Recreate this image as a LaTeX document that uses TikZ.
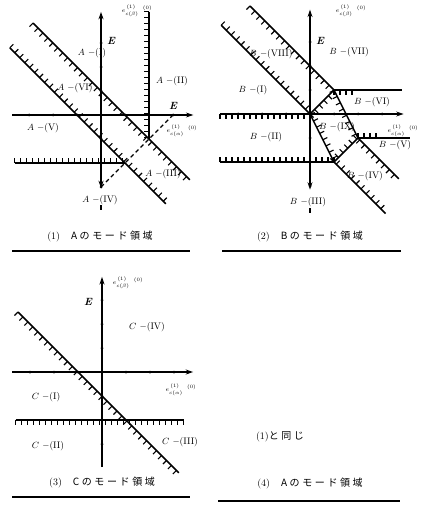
\documentclass[tikz,border=0pt]{standalone}
\usepackage{fontspec}
\newfontfamily\jp{Noto Sans CJK JP}
\usetikzlibrary{arrows.meta,decorations.markings}
\newcommand\jk{\kern2.6pt}
\begin{document}
\begin{tikzpicture}[x=1pt,y=-1pt,
  >={Stealth[length=7.5pt,width=5pt]},
  bound/.style={line width=1.5pt},
  axisline/.style={line width=1.7pt},
  hatchL/.style={postaction={decorate,decoration={markings,mark=between positions 0 and 1 step #1 with {\draw[line width=1.1pt] (0pt,0pt)--(0pt,5pt);}}}},
  hatchL/.default=6.5pt,
  hatchR/.style={postaction={decorate,decoration={markings,mark=between positions 0 and 1 step #1 with {\draw[line width=1.1pt] (0pt,0pt)--(0pt,-5pt);}}}},
  hatchR/.default=6.5pt,
  lab/.style={font=\fontsize{9.5}{11}\selectfont, inner sep=0pt},
  elab/.style={font=\fontsize{6.5}{7}\selectfont, inner sep=0pt},
  elet/.style={font=\fontsize{10.5}{12}\selectfont\bfseries\itshape, inner sep=0pt},
  captext/.style={font=\fontsize{10}{12}\selectfont, inner sep=0pt},
  capline/.style={line width=1.3pt}
]
\useasboundingbox (0,0) rectangle (427,508);

%================ Panel (1) A =================
\begin{scope}[shift={(101,115)},x=24pt,y=24pt]
  \coordinate (A-o) at (0,0);
  \coordinate (A-xl) at (-3.7,0);
  \coordinate (A-xr) at (3.85,0);
  \coordinate (A-yb) at (0,-3.05);
  \coordinate (A-yt) at (0,4.3);
  \coordinate (A-t1) at (0,-3.75);
  \coordinate (A-t2) at (0,-3.97);
  \coordinate (A-u1) at (-2.83,3.83);
  \coordinate (A-u2) at (3.7,-2.7);
  \coordinate (A-l1) at (-3.8,2.8);
  \coordinate (A-l2) at (2.7,-3.7);
  \coordinate (A-v1) at (2,4.3);
  \coordinate (A-v2) at (2,-1);
  \coordinate (A-h1) at (-3.6,-2);
  \coordinate (A-h2) at (1,-2);
  \coordinate (A-d1) at (0,-3);
  \coordinate (A-d2) at (3,0);
  \draw[axisline,->] (A-xl) -- (A-xr);
  \draw[axisline,<->] (A-yb) -- (A-yt);
  \draw[axisline] (A-t1) -- (A-t2);
  \draw[bound,hatchR=7pt] (A-u1) -- (A-u2);
  \draw[bound,hatchL=7pt] (A-l1) -- (A-l2);
  \draw[bound,hatchR=6pt] (A-v1) -- (A-v2);
  \draw[bound,hatchL=6pt] (A-h1) -- (A-h2);
  \draw[line width=1.2pt,dash pattern=on 4pt off 3pt] (A-d1) -- (A-d2);
  \foreach \t in {-3,-2,-1,1,2,3}{
    \fill (\t,0) circle (1.5pt);
    \fill (0,\t) circle (1.5pt);
  }
\end{scope}
\node[lab] (A1) at (92,53) {$A$ $-$(I)};
\node[lab] (A2) at (172,81) {$A$ $-$(II)};
\node[lab] (A6) at (75,88) {$A$ $-$(VI)};
\node[lab] (A5) at (43,128) {$A$ $-$(V)};
\node[lab] (A3) at (163,174) {$A$ $-$(III)};
\node[lab] (A4) at (100,200) {$A$ $-$(IV)};
\node[elet] (AE1) at (111,41) {E};
\node[elet] (AE2) at (173,106) {E};
\node[elab] (Aeb) at (137,11) {$e^{\,(1)}_{c(\beta)}\;\;{}^{(0)}$};
\node[elab] (Aea) at (182,131) {$e^{\,(1)}_{c(\alpha)}\;\;{}^{(0)}$};
\node[captext] (cap1) at (100,237) {(1)\hspace{1.1em}{\jp A\jk の\jk モ\jk ー\jk ド\jk 領\jk 域}};
\coordinate (c1l) at (12,251);
\coordinate (c1r) at (190,251);
\draw[capline] (c1l) -- (c1r);

%================ Panel (2) B =================
\begin{scope}[shift={(310,114)},x=24pt,y=24pt]
  \coordinate (B-o) at (0,0);
  \coordinate (B-xl) at (-3.75,0);
  \coordinate (B-xr) at (3.9,0);
  \coordinate (B-yb) at (0,-3.15);
  \coordinate (B-yt) at (0,4.35);
  \coordinate (B-t1) at (0,-3.92);
  \coordinate (B-t2) at (0,-4.12);
  \coordinate (B-u1) at (-2.5,4.5);
  \coordinate (B-P) at (1,1);
  \coordinate (B-Q) at (2,-1);
  \coordinate (B-u2) at (3.7,-2.7);
  \coordinate (B-l1) at (-3.7,3.7);
  \coordinate (B-R) at (1,-2);
  \coordinate (B-l2) at (3.15,-4.15);
  \coordinate (B-h1e) at (3.83,1);
  \coordinate (B-h1m) at (1.9,1);
  \coordinate (B-h2e) at (4.15,-1);
  \coordinate (B-h2m) at (2.85,-1);
  \coordinate (B-h3s) at (-3.75,-2);
  \draw[axisline,->] (B-xl) -- (B-xr);
  \draw[axisline,<->] (B-yb) -- (B-yt);
  \draw[axisline] (B-t1) -- (B-t2);
  \path[hatchR=6pt] (B-xl) -- (B-o);
  \draw[bound,hatchR=7pt] (B-u1) -- (B-P) -- (B-Q) -- (B-u2);
  \draw[bound,hatchL=7pt] (B-l1) -- (B-o) -- (B-R) -- (B-l2);
  \draw[bound,hatchR=6.5pt] (B-o) -- (B-P);
  \draw[bound,hatchL=6.5pt] (B-R) -- (B-Q);
  \draw[bound] (B-P) -- (B-h1e);
  \path[hatchR=6pt] (B-P) -- (B-h1m);
  \draw[bound] (B-Q) -- (B-h2e);
  \path[hatchL=6pt] (B-Q) -- (B-h2m);
  \draw[bound,hatchL=6pt] (B-h3s) -- (B-R);
  \foreach \t in {-3,-2,-1,1,2,3}{
    \fill (\t,0) circle (1.5pt);
    \fill (0,\t) circle (1.5pt);
  }
\end{scope}
\node[lab] (B8) at (271,54) {$B$ $-$(VIII)};
\node[lab] (B7) at (349,52) {$B$ $-$(VII)};
\node[lab] (B1) at (253,90) {$B$ $-$(I)};
\node[lab] (B6) at (372,102) {$B$ $-$(VI)};
\node[lab] (B9) at (337,127) {$B$ $-$(IX)};
\node[lab] (B2) at (266,137) {$B$ $-$(II)};
\node[lab] (B5) at (395,145) {$B$ $-$(V)};
\node[lab] (B4) at (365,176) {$B$ $-$(IV)};
\node[lab] (B3) at (308,202) {$B$ $-$(III)};
\node[elet] (BE) at (320,41) {E};
\node[elab] (Beb) at (351,11) {$e^{\,(1)}_{c(\beta)}\;\;{}^{(0)}$};
\node[elab] (Bea) at (403,131) {$e^{\,(1)}_{c(\alpha)}\;\;{}^{(0)}$};
\node[captext] (cap2) at (310,237) {(2)\hspace{1.1em}{\jp B\jk の\jk モ\jk ー\jk ド\jk 領\jk 域}};
\coordinate (c2l) at (222,251);
\coordinate (c2r) at (401,251);
\draw[capline] (c2l) -- (c2r);

%================ Panel (3) C =================
\begin{scope}[shift={(102,372)},x=24pt,y=24pt]
  \coordinate (C-o) at (0,0);
  \coordinate (C-xl) at (-3.75,0);
  \coordinate (C-xr) at (3.8,0);
  \coordinate (C-yb) at (0,-3.96);
  \coordinate (C-yt) at (0,3.96);
  \coordinate (C-d1) at (-3.5,2.5);
  \coordinate (C-d2) at (3.2,-4.2);
  \coordinate (C-h1) at (-3.6,-2);
  \coordinate (C-h2) at (3.4,-2);
  \draw[axisline,->] (C-xl) -- (C-xr);
  \draw[axisline,->] (C-yb) -- (C-yt);
  \draw[bound,hatchR=7pt] (C-d1) -- (C-d2);
  \draw[bound,hatchR=6pt] (C-h1) -- (C-h2);
  \foreach \t in {-3,-2,-1,1,2,3}{
    \fill (\t,0) circle (1.5pt);
    \fill (0,\t) circle (1.5pt);
  }
\end{scope}
\node[lab] (C4) at (147,327) {$C$ $-$(IV)};
\node[lab] (C1) at (46,397) {$C$ $-$(I)};
\node[lab] (C2) at (48,446) {$C$ $-$(II)};
\node[lab] (C3) at (180,442) {$C$ $-$(III)};
\node[elet] (CE) at (88,302) {E};
\node[elab] (Ceb) at (128,283) {$e^{\,(1)}_{c(\beta)}\;\;{}^{(0)}$};
\node[elab] (Cea) at (181,390) {$e^{\,(1)}_{c(\alpha)}\;\;{}^{(0)}$};
\node[captext] (cap3) at (102,483) {(3)\hspace{1.1em}{\jp C\jk の\jk モ\jk ー\jk ド\jk 領\jk 域}};
\coordinate (c3l) at (12,497);
\coordinate (c3r) at (190,497);
\draw[capline] (c3l) -- (c3r);

%================ Panel (4) =================
\node[captext] (same) at (280,437) {(1){\jp と\jk 同\jk じ}};
\node[captext] (cap4) at (310,484) {(4)\hspace{1.1em}{\jp A\jk の\jk モ\jk ー\jk ド\jk 領\jk 域}};
\coordinate (c4l) at (218,501);
\coordinate (c4r) at (400,501);
\draw[capline] (c4l) -- (c4r);
\end{tikzpicture}
\end{document}
